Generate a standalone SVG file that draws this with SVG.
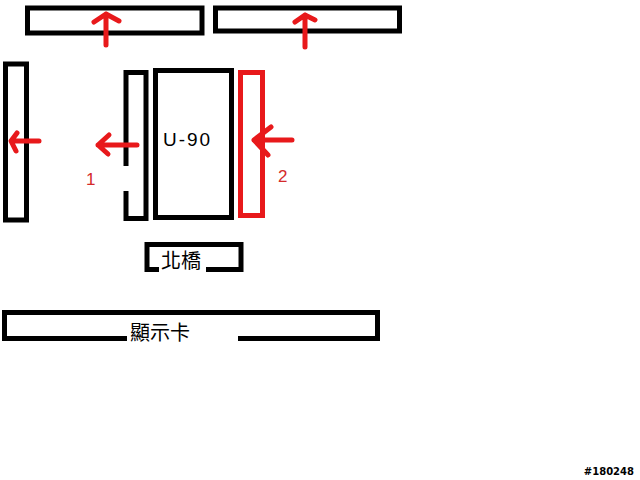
<svg xmlns="http://www.w3.org/2000/svg" width="640" height="480" viewBox="0 0 640 480">
<defs>
<style>
.box{fill:none;stroke:#000;stroke-width:5}
.red{fill:none;stroke:#e8191b;stroke-width:5}
.arr{fill:none;stroke:#e8191b;stroke-width:5;stroke-linecap:round;stroke-linejoin:round}
.lbl{font-family:"Liberation Sans","Noto Sans CJK TC",sans-serif;fill:#000}
.num{font-family:"Liberation Sans",sans-serif;font-size:17px;fill:#d42a2a}
.gap{stroke:#fff;stroke-width:7}
</style>
</defs>
<rect width="640" height="480" fill="#fff"/>
<g id="top-left"><rect class="box" x="27.5" y="8" width="174.5" height="25"/></g>
<g id="top-right"><rect class="box" x="215.5" y="8" width="184" height="23"/></g>
<g id="left-panel"><rect class="box" x="5.5" y="64" width="21" height="156"/></g>
<g id="slot-1">
<rect class="box" x="126" y="72.5" width="20" height="146"/>
<line class="gap" x1="126" y1="166" x2="126" y2="191"/>
</g>
<g id="u90"><rect class="box" x="155.5" y="70.5" width="76" height="147"/>
<text class="lbl" x="163" y="146" font-size="19" textLength="47" lengthAdjust="spacing">U-90</text></g>
<g id="slot-2"><rect class="red" x="240.5" y="72.5" width="22" height="143"/></g>
<g id="northbridge"><rect class="box" x="147" y="244.5" width="94" height="25"/>
<line class="gap" x1="159" y1="269.5" x2="206" y2="269.5"/>
<text class="lbl" x="181" y="268" font-size="20" text-anchor="middle">北橋</text></g>
<g id="gpu"><rect class="box" x="4.5" y="312.5" width="373" height="26"/>
<line class="gap" x1="127" y1="338.5" x2="238" y2="338.5"/>
<text class="lbl" x="160" y="340" font-size="20" text-anchor="middle">顯示卡</text></g>
<g id="connectors">
<path class="arr" d="M106 45V14M94 22L106 14L119 21"/>
<path class="arr" d="M305 47V15M295 22L305 15L315 20"/>
<path class="arr" d="M39 141H12M17 133L11 141L16 151"/>
<path class="arr" d="M137 145H98M109 135L98 145L108 154"/>
<path class="arr" d="M292 140H254M271 127L254 140L268 155"/>
</g>
<text class="num" x="86" y="185">1</text>
<text class="num" x="278" y="182">2</text>
<text x="634" y="475" font-family="'DejaVu Sans',sans-serif" font-size="10" font-weight="bold" text-anchor="end" fill="#000">#180248</text>
</svg>
